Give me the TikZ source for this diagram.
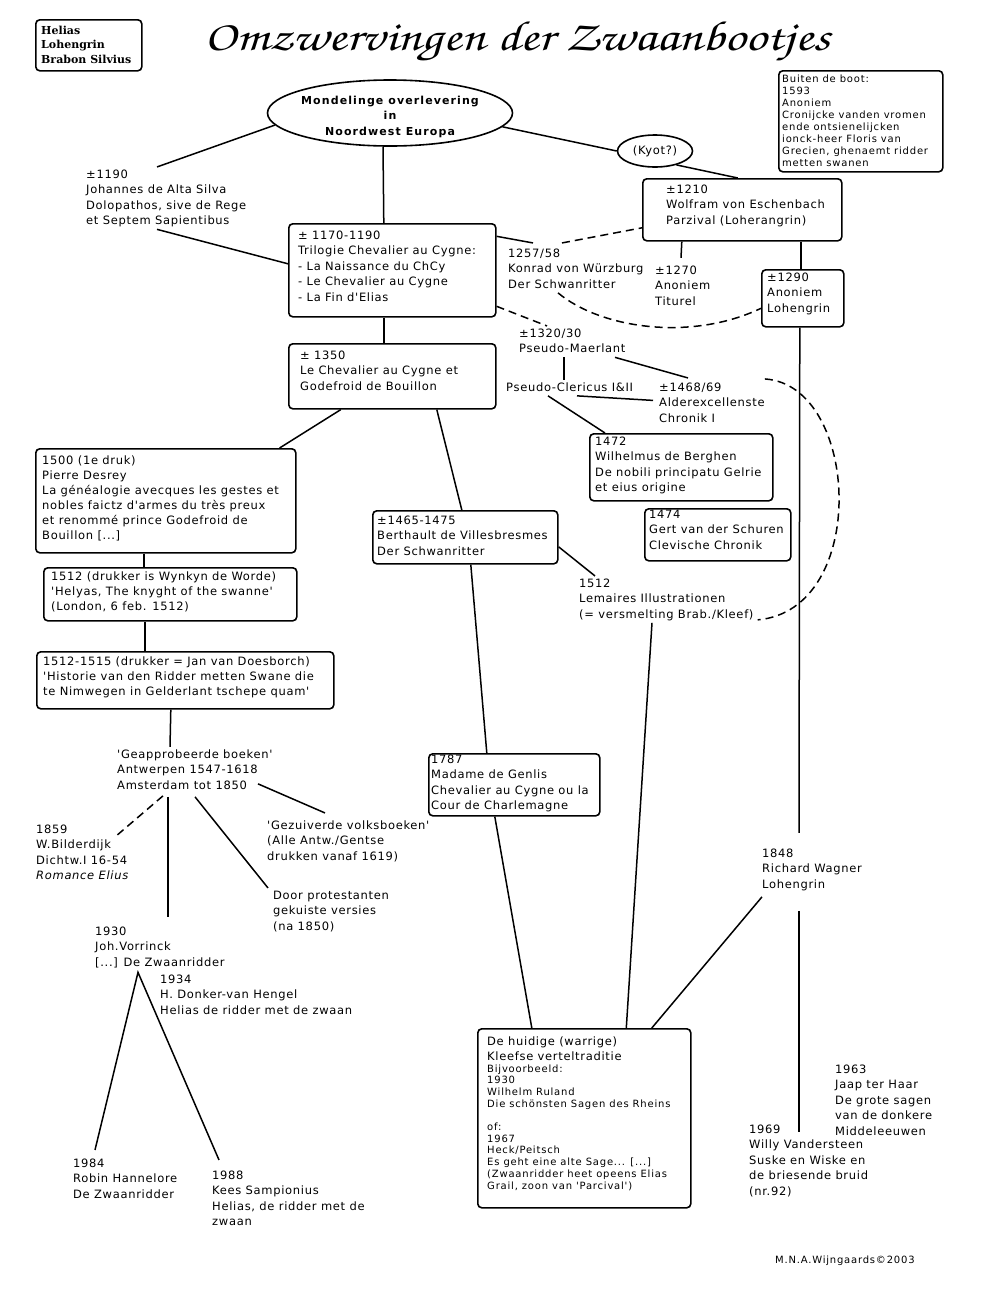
\documentclass[tikz,border=0pt]{standalone}
\usepackage[T1]{fontenc}
\usepackage{fontspec}
\usepackage{graphicx}
\usetikzlibrary{shapes.geometric,calc}
\newfontfamily\fmainfam{DejaVu Sans}[LetterSpace=6]
\newfontfamily\fsmallfam{DejaVu Sans}[LetterSpace=8]
\newfontfamily\foralfam{DejaVu Sans}[LetterSpace=10]
\newfontfamily\flegfam{DejaVu Serif}
\newcommand\mainsz{\fmainfam\fontsize{11.5}{15.5}\selectfont}
\newcommand\mainszb{\fmainfam\fontsize{11.5}{15}\selectfont}
\newcommand\smallsz{\fsmallfam\fontsize{10}{12}\selectfont}
\newcommand\hsmallsz{\fsmallfam\fontsize{10}{11.7}\selectfont}
\newcommand\oralsz{\foralfam\bfseries\fontsize{11}{15.5}\selectfont}
\newcommand\legsz{\flegfam\bfseries\fontsize{11}{14.5}\selectfont}
\newcommand\titlef{\fontencoding{T1}\fontfamily{pzc}\fontseries{mb}\fontshape{it}\selectfont}
\newcommand\lns[1]{\begin{tabular}[t]{@{}l@{}}#1\end{tabular}}
\begin{document}
\begin{tikzpicture}[x=1pt,y=-1pt,
  box/.style={draw, rounded corners=4pt, line width=1.6pt, inner sep=0pt, anchor=north west},
  oval/.style={draw, ellipse, line width=1.6pt, inner sep=0pt},
  lbl/.style={inner sep=0pt, anchor=base west, font=\mainsz},
  ln/.style={line width=1.5pt},
  dsh/.style={line width=1.5pt, dash pattern=on 8pt off 5pt}]
\path[fill=white] (0,0) rectangle (1000,1294);
\useasboundingbox (0,0) rectangle (1000,1294);

% legend and title
\node[box, minimum width=106pt, minimum height=51pt] (legend) at (35,19) {};
\node[lbl, font=\legsz] (legendt) at (41,34) {\lns{Helias\\Lohengrin\\Brabon Silvius}};
\node[inner sep=0pt, anchor=base] (title) at (517.5,50) {\resizebox{625pt}{30pt}{\titlef Omzwervingen der Zwaanbootjes}};

% top
\node[oval, minimum width=245pt, minimum height=66pt] (oral) at (390,113) {};
\node[inner sep=0pt, anchor=base, font=\oralsz] (oralt) at (390,104) {\begin{tabular}[t]{@{}c@{}}Mondelinge overlevering\\in\\Noordwest Europa\end{tabular}};
\node[oval, minimum width=75pt, minimum height=32pt, font=\mainsz] (kyot) at (655,151) {(Kyot?)};

\node[box, minimum width=164pt, minimum height=101pt] (buiten) at (778,70) {};
\node[lbl, font=\smallsz] (buitent) at (782,82) {\lns{Buiten de boot:\\1593\\Anoniem\\Cronijcke vanden vromen\\ende ontsienelijcken\\ionck-heer Floris van\\Grecien, ghenaemt ridder\\metten swanen}};

\node[box, minimum width=199pt, minimum height=62pt] (wolf) at (642,178) {};
\node[lbl] (wolft) at (666,193) {\lns{±1210\\Wolfram von Eschenbach\\Parzival (Loherangrin)}};
\node[lbl] (t1257) at (508,257) {\lns{1257/58\\Konrad von Würzburg\\Der Schwanritter}};
\node[lbl] (t1270) at (655,274) {\lns{±1270\\Anoniem\\Titurel}};
\node[box, minimum width=82pt, minimum height=57pt] (b1290) at (761,269) {};
\node[lbl] (t1290) at (767,281) {\lns{±1290\\Anoniem\\Lohengrin}};

\node[lbl] (t1190) at (86,178) {\lns{±1190\\Johannes de Alta Silva\\Dolopathos, sive de Rege\\et Septem Sapientibus}};
\node[box, minimum width=207pt, minimum height=93pt] (b1170) at (288,223) {};
\node[lbl] (t1170) at (298,239) {\lns{± 1170-1190\\Trilogie Chevalier au Cygne:\\- La Naissance du ChCy\\- Le Chevalier au Cygne\\- La Fin d'Elias}};
\node[box, minimum width=207pt, minimum height=65pt] (b1350) at (288,343) {};
\node[lbl] (t1350) at (300,359) {\lns{± 1350\\Le Chevalier au Cygne et\\Godefroid de Bouillon}};

\node[lbl] (tPM) at (519,337) {\lns{±1320/30\\Pseudo-Maerlant}};
\node[lbl] (tPC) at (506,391) {\lns{Pseudo-Clericus I\&II}};
\node[lbl] (t1468) at (659,391) {\lns{±1468/69\\Alderexcellenste\\Chronik I}};
\node[box, minimum width=183pt, minimum height=67pt] (b1472) at (589,433) {};
\node[lbl] (t1472) at (595,445) {\lns{1472\\Wilhelmus de Berghen\\De nobili principatu Gelrie\\et eius origine}};
\node[box, minimum width=146pt, minimum height=52pt] (b1474) at (644,508) {};
\node[lbl] (t1474) at (649,518) {\lns{1474\\Gert van der Schuren\\Clevische Chronik}};
\node[lbl] (tLem) at (579,587) {\lns{1512\\Lemaires Illustrationen\\(= versmelting Brab./Kleef)}};

\node[box, minimum width=185pt, minimum height=53pt] (bBert) at (372,510) {};
\node[lbl] (tBert) at (377,524) {\lns{±1465-1475\\Berthault de Villesbresmes\\Der Schwanritter}};
\node[box, minimum width=171pt, minimum height=62pt] (b1787) at (428,753) {};
\node[lbl] (t1787) at (431,763) {\lns{1787\\Madame de Genlis\\Chevalier au Cygne ou la\\Cour de Charlemagne}};

% left column
\node[box, minimum width=260pt, minimum height=104pt] (b1500) at (35,448) {};
\node[lbl, font=\mainszb] (t1500) at (42,464) {\lns{1500 (1e druk)\\Pierre Desrey\\La généalogie avecques les gestes et\\nobles faictz d'armes du très preux\\et renommé prince Godefroid de\\Bouillon {[...]}}};
\node[box, minimum width=253pt, minimum height=53pt] (b1512) at (43,567) {};
\node[lbl, font=\mainszb] (t1512) at (51,580) {\lns{1512 (drukker is Wynkyn de Worde)\\'Helyas, The knyght of the swanne'\\(London, 6 feb. 1512)}};
\node[box, minimum width=297pt, minimum height=57pt] (bDoes) at (36,651) {};
\node[lbl, font=\mainszb] (tDoes) at (43,665) {\lns{1512-1515 (drukker = Jan van Doesborch)\\'Historie van den Ridder metten Swane die\\te Nimwegen in Gelderlant tschepe quam'}};

\node[lbl] (tGea) at (117,758) {\lns{'Geapprobeerde boeken'\\Antwerpen 1547-1618\\Amsterdam tot 1850}};
\node[lbl] (tGez) at (267,829) {\lns{'Gezuiverde volksboeken'\\(Alle Antw./Gentse\\drukken vanaf 1619)}};
\node[lbl] (tDoor) at (273,899) {\lns{Door protestanten\\gekuiste versies\\(na 1850)}};
\node[lbl] (t1859) at (36,833) {\lns{1859\\W.Bilderdijk\\Dichtw.I 16-54\\\textit{Romance Elius}}};
\node[lbl] (t1930) at (95,935) {\lns{1930\\Joh.Vorrinck\\{[...]} De Zwaanridder}};
\node[lbl] (t1934) at (160,983) {\lns{1934\\H. Donker-van Hengel\\Helias de ridder met de zwaan}};
\node[lbl] (t1984) at (73,1167) {\lns{1984\\Robin Hannelore\\De Zwaanridder}};
\node[lbl] (t1988) at (212,1179) {\lns{1988\\Kees Sampionius\\Helias, de ridder met de\\zwaan}};

% bottom right
\node[box, minimum width=213pt, minimum height=179pt] (bHuid) at (477,1028) {};
\node[lbl, font=\mainszb] (tHuidA) at (487,1045) {\lns{De huidige (warrige)\\Kleefse verteltraditie}};
\node[lbl, font=\hsmallsz] (tHuidB) at (487,1072) {\lns{Bijvoorbeeld:\\1930\\Wilhelm Ruland\\Die schönsten Sagen des Rheins\\ \\of:\\1967\\Heck/Peitsch\\Es geht eine alte Sage... {[...]}\\(Zwaanridder heet opeens Elias\\Grail, zoon van 'Parcival')}};
\node[lbl] (t1848) at (762,857) {\lns{1848\\Richard Wagner\\Lohengrin}};
\node[lbl] (t1963) at (835,1073) {\lns{1963\\Jaap ter Haar\\De grote sagen\\van de donkere\\Middeleeuwen}};
\node[lbl] (t1969) at (749,1133) {\lns{1969\\Willy Vandersteen\\Suske en Wiske en\\de briesende bruid\\(nr.92)}};
\node[lbl, font=\smallsz] (foot) at (775,1263) {M.N.A.Wijngaards©2003};

% connectors
\draw[ln] (oral.186) -- ([xshift=71pt]t1190.north west);
\draw[ln] ([xshift=71pt]t1190.south west) -- ([yshift=6.5pt]b1170.west);
\draw[ln] ([xshift=-7pt]oral.south) -- ([xshift=-8.5pt]b1170.north);
\draw[ln] (oral.-7) -- (kyot.west);
\draw[ln] (kyot.-33) -- ([xshift=-4.5pt]wolf.north);
\draw[ln] ([yshift=34pt]b1170.east) -- ([xshift=25pt,yshift=3pt]t1257.north west);
\draw[dsh] ([xshift=54pt,yshift=3pt]t1257.north west) -- ([yshift=-18pt]wolf.west);
\draw[ln] ([xshift=-60.5pt]wolf.south) -- ([xshift=26pt,yshift=5pt]t1270.north west);
\draw[ln] ([xshift=58.5pt]wolf.south) -- ([xshift=-2pt]b1290.north);
\draw[dsh] ([yshift=-36pt]b1170.east) -- ([xshift=28pt]tPM.north west);
\draw[dsh] ([xshift=50pt]t1257.south west) .. controls (600,328) and (690,342) .. ([yshift=-10pt]b1290.west);
\draw[ln] ([xshift=-8.5pt]b1170.south) -- ([xshift=-8.5pt]b1350.north);
\draw[ln] ([xshift=45pt]tPM.south west) -- ([xshift=58pt]tPC.north west);
\draw[ln] ([xshift=96pt]tPM.south west) -- ([xshift=29pt,yshift=2pt]t1468.north west);
\draw[ln] ([xshift=71pt]tPC.south west) -- ([xshift=-6pt,yshift=3pt]t1468.west);
\draw[ln] ([xshift=42pt]tPC.south west) -- ([xshift=16pt]b1472.north west);
\draw[dsh] ([yshift=1pt]t1468.north east) .. controls (860,385) and (870,610) .. ([xshift=4pt,yshift=3pt]tLem.south east);
\draw[ln] ([xshift=-51.5pt]b1350.south) -- ([xshift=-17pt]b1500.north east);
\draw[ln] ([xshift=44.5pt]b1350.south) -- ([xshift=-3.5pt]bBert.north);
\draw[ln] ([yshift=-9.5pt]bBert.east) -- ([xshift=16pt]tLem.north west);
\draw[ln] ([xshift=5.5pt]bBert.south) -- ([xshift=-27.5pt]b1787.north);
\draw[ln] ([xshift=73pt]tLem.south west) -- ([xshift=42pt]bHuid.north);
\draw[ln] ([xshift=-19.5pt]b1787.south) -- ([xshift=-52.5pt]bHuid.north);
\draw[ln] ([yshift=-4pt]t1848.south west) -- ([xshift=67.5pt]bHuid.north);
\draw[ln] ([xshift=-3pt]b1290.south) -- ([xshift=37pt,yshift=13pt]t1848.north west);
\draw[ln] ([xshift=37pt,yshift=-18pt]t1848.south west) -- ([xshift=50pt,yshift=-10pt]t1969.north west);
\draw[ln] ([xshift=-22pt]b1500.south) -- ([xshift=-26.5pt]b1512.north);
\draw[ln] ([xshift=-25.5pt]b1512.south) -- ([xshift=-40.5pt]bDoes.north);
\draw[ln] ([xshift=-14.5pt]bDoes.south) -- ([xshift=53pt]tGea.north west);
\draw[ln] ([xshift=141pt,yshift=10pt]tGea.south west) -- ([xshift=58pt,yshift=5pt]tGez.north west);
\draw[ln] ([xshift=78pt,yshift=-3pt]tGea.south west) -- ([xshift=-5pt]tDoor.north west);
\draw[ln] ([xshift=51pt,yshift=-3pt]tGea.south west) -- ([xshift=73pt,yshift=7pt]t1930.north west);
\draw[dsh] ([xshift=46pt,yshift=-2pt]tGea.south west) -- ([xshift=79pt,yshift=-15pt]t1859.north west);
\coordinate (apex) at ([xshift=43pt,yshift=-1.5pt]t1930.south west);
\draw[ln] ([xshift=22pt,yshift=6pt]t1984.north west) -- (apex) -- ([xshift=7pt,yshift=8pt]t1988.north west);
\end{tikzpicture}
\end{document}
